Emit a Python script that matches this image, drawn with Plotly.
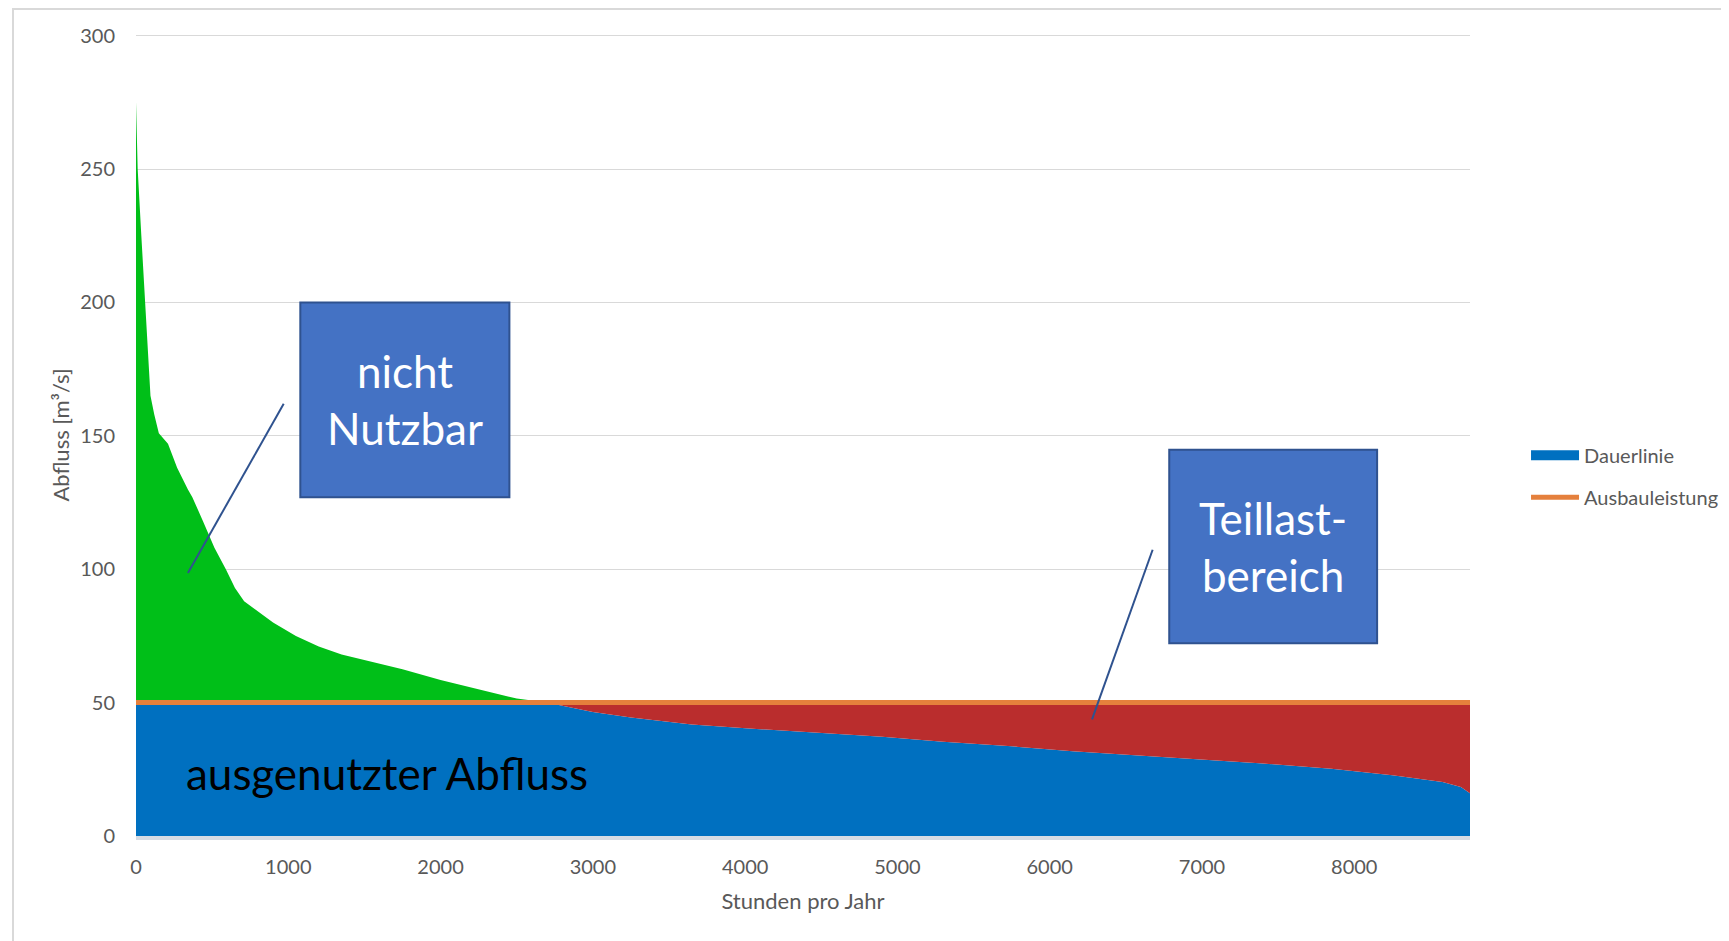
# Flow duration curve (Dauerlinie) with design discharge (Ausbauleistung)

import plotly.graph_objects as go

# ----------------------------------------------------------
# Data
# ----------------------------------------------------------

hours = [0, 11, 35, 62, 80, 95, 120, 150, 210, 270, 340, 370, 440,
         515, 590, 650, 710, 780, 900, 1050, 1200, 1350, 1500, 1750,
         2000, 2250, 2500, 2700, 2800, 3000, 3250, 3650, 4050, 4500,
         4900, 5300, 5750, 6150, 6600, 7000, 7400, 7850, 8250, 8580,
         8700, 8760]

discharge = [275, 250, 225, 200, 180, 165, 158, 151, 147, 138, 130,
             127, 118, 108, 100, 93, 88, 85, 80, 75, 71, 68, 66, 62.5,
             58.5, 55, 51.5, 50, 48.8, 46.5, 44.4, 41.8, 40.2, 38.5,
             37.2, 35.3, 33.6, 31.8, 30.2, 28.7, 27.2, 25.2, 22.8, 20.2,
             18.4, 16]

design_flow = 50

x_ticks = [0, 1000, 2000, 3000, 4000, 5000, 6000, 7000, 8000]
y_ticks = [0, 50, 100, 150, 200, 250, 300]

used = [min(q, design_flow) for q in discharge]
above = [max(q, design_flow) for q in discharge]
design_line = [design_flow] * len(hours)

FONT = "Lato"
GREY = "#595959"
BOX_FILL = "#4472C4"
BOX_LINE = "#2F528F"

fig = go.Figure()

# Used discharge (blue)
fig.add_trace(
    go.Scatter(
        x=hours,
        y=used,
        name="Dauerlinie",
        mode="lines",
        line=dict(width=0, color="#0070C0"),
        fill="tozeroy",
        fillcolor="#0070C0",
        legendgroup="a",
        showlegend=False,
        hoverinfo="skip"
    )
)

# Part load area (red)
fig.add_trace(
    go.Scatter(
        x=hours,
        y=design_line,
        mode="lines",
        line=dict(width=0, color="#BA2D2D"),
        fill="tonexty",
        fillcolor="#BA2D2D",
        showlegend=False,
        hoverinfo="skip"
    )
)

# Unusable discharge (green)
fig.add_trace(
    go.Scatter(
        x=hours,
        y=above,
        mode="lines",
        line=dict(width=0, color="#00BF18"),
        fill="tonexty",
        fillcolor="#00BF18",
        showlegend=False,
        hoverinfo="skip"
    )
)

# Design discharge line (orange)
fig.add_trace(
    go.Scatter(
        x=hours,
        y=design_line,
        name="Ausbauleistung",
        mode="lines",
        line=dict(width=5, color="#E5803C"),
        legendgroup="b",
        hoverinfo="skip"
    )
)

# Legend entry for the blue area (thick bar like the original)
fig.add_trace(
    go.Scatter(
        x=[None],
        y=[None],
        name="Dauerlinie",
        mode="lines",
        line=dict(width=10, color="#0070C0"),
        legendgroup="a",
        legendrank=1,
        hoverinfo="skip"
    )
)

# Callout boxes and leader lines
shapes = [
    dict(type="rect", xref="paper", yref="paper",
         x0=-0.0922, x1=1.3, y0=-0.3, y1=1.0312,
         line=dict(color="#D9D9D9", width=2), layer="below"),
    dict(type="line", x0=970, y0=162, x1=341, y1=98.6,
         line=dict(color=BOX_LINE, width=2)),
    dict(type="line", x0=6676, y0=107.3, x1=6278, y1=43.7,
         line=dict(color=BOX_LINE, width=2)),
    dict(type="rect", x0=1079, x1=2452, y0=127, y1=200,
         fillcolor=BOX_FILL, line=dict(color=BOX_LINE, width=2)),
    dict(type="rect", x0=6785, x1=8150, y0=72.2, y1=144.8,
         fillcolor=BOX_FILL, line=dict(color=BOX_LINE, width=2)),
]

annotations = [
    dict(x=1765, y=163.5, text="nicht<br>Nutzbar", showarrow=False,
         font=dict(family=FONT, size=44, color="white")),
    dict(x=7467, y=108.5, text="Teillast-<br>bereich", showarrow=False,
         font=dict(family=FONT, size=44, color="white")),
    dict(x=1651, y=23.5, text="ausgenutzter Abfluss", showarrow=False,
         font=dict(family=FONT, size=44, color="black")),
]

fig.update_layout(
    width=1729,
    height=941,
    margin=dict(l=128, r=267, t=26, b=113),
    paper_bgcolor="white",
    plot_bgcolor="white",
    font=dict(family=FONT, size=20, color=GREY),
    shapes=shapes,
    annotations=annotations,
    showlegend=True,
    legend=dict(
        x=1.042, y=0.499, xanchor="left", yanchor="top",
        font=dict(family=FONT, size=20, color=GREY),
        traceorder="grouped",
        tracegroupgap=13,
        itemwidth=48,
        bgcolor="rgba(0,0,0,0)"
    ),
    xaxis=dict(
        range=[0, 8760],
        tickvals=x_ticks,
        showgrid=False,
        zeroline=False,
        showline=True,
        linecolor="#D6DCE4",
        linewidth=4,
        ticks="",
        ticklabelstandoff=10,
        tickfont=dict(size=20, color=GREY),
        title=dict(text="Stunden pro Jahr", standoff=18,
                   font=dict(size=22, color=GREY))
    ),
    yaxis=dict(
        range=[0, 300.6],
        tickvals=y_ticks,
        showgrid=True,
        gridcolor="#D9D9D9",
        gridwidth=1,
        zeroline=False,
        showline=False,
        ticks="",
        ticklabelstandoff=20,
        tickfont=dict(size=20, color=GREY),
        title=dict(text="Abfluss [m³/s]", standoff=4,
                   font=dict(size=22, color=GREY))
    )
)

fig.write_html("out.html")
